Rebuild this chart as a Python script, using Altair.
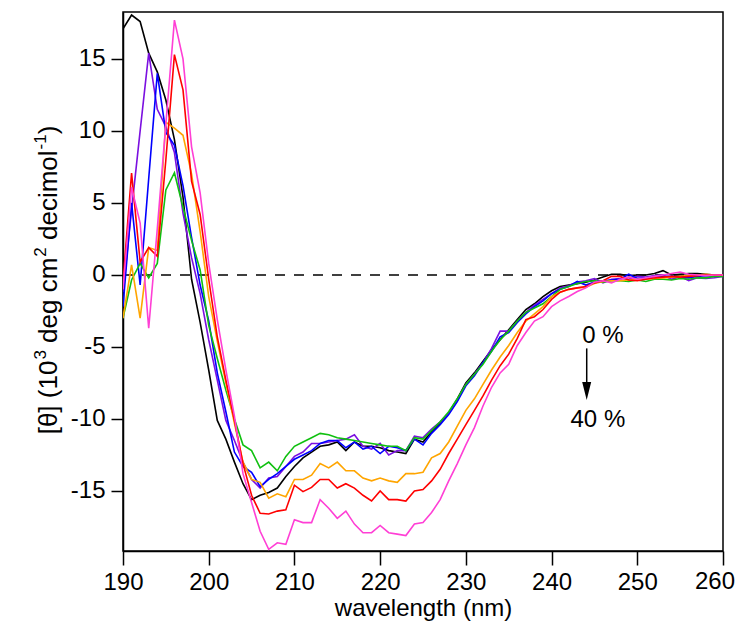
import altair as alt
import pandas as pd

wavelength = list(range(190, 261))

black = [17.1, 18.05, 17.6, 15.4, 14.1, 12.15, 9.4, 5.4, -0.3, -3.3,
         -6.6, -10.1, -11.4, -13.0, -14.5, -15.6, -15.3, -15.1, -14.8, -14.0,
         -13.3, -12.7, -12.3, -11.9, -11.8, -11.6, -12.2, -11.6, -11.9, -11.9,
         -12.0, -12.2, -12.3, -12.4, -11.4, -11.6, -10.9, -10.3, -9.6, -8.6,
         -7.5, -6.8, -6.0, -5.2, -4.5, -3.8, -3.1, -2.4, -2.0, -1.5,
         -1.1, -0.8, -0.7, -0.6, -0.5, -0.35, -0.15, 0.05, 0.05, -0.05,
         0.0, 0.0, 0.1, 0.3, 0.0, 0.05, 0.1, 0.1, 0.05, 0.0, 0.0]

purple = [-1.2, 4.5, 10.0, 15.4, 11.5, 10.3, 8.5, 4.3, 1.2, -1.3,
          -4.5, -7.3, -10.1, -11.5, -13.0, -14.2, -14.8, -14.1, -14.0, -13.3,
          -12.6, -12.3, -11.7, -11.7, -11.6, -11.5, -11.4, -11.1, -11.9, -12.1,
          -11.7, -12.5, -12.2, -12.2, -11.2, -11.3, -10.7, -10.2, -9.6, -8.7,
          -7.6, -6.9, -6.1, -5.1, -3.9, -3.9, -3.2, -2.6, -2.1, -1.7,
          -1.3, -0.9, -0.75, -0.5, -0.4, -0.25, -0.55, -0.3, -0.25, -0.3,
          -0.1, -0.15, -0.05, 0.0, -0.3, -0.1, -0.4, -0.2, -0.25, -0.2, -0.1]

blue = [-2.2, 5.0, -0.7, 6.7, 14.0, 9.9, 9.0, 6.2, 2.6, -0.7,
        -3.2, -6.8, -9.5, -12.3, -13.3, -13.7, -14.7, -14.2, -13.8, -13.3,
        -12.8, -12.5, -12.2, -11.7, -11.5, -11.5, -12.0, -11.6, -12.1, -11.9,
        -12.4, -11.9, -12.0, -12.2, -11.4, -11.8, -11.0, -10.4, -9.7, -8.8,
        -7.7, -7.0, -6.1, -5.3, -4.3, -4.0, -3.3, -2.7, -2.2, -1.8,
        -1.3, -1.0, -0.8, -0.45, -0.7, -0.5, -0.4, -0.35, -0.3, 0.05,
        -0.25, -0.2, -0.15, -0.1, -0.1, -0.15, -0.2, -0.1, -0.05, -0.1, 0.0]

green = [-3.0, -0.35, 0.8, -0.2, 0.8, 5.9, 7.1, 4.7, 2.4, 0.35,
         -3.5, -5.8, -8.0, -10.0, -11.8, -12.2, -13.4, -13.0, -13.6, -12.6,
         -11.9, -11.6, -11.3, -11.0, -11.1, -11.3, -11.4, -11.5, -11.6, -11.7,
         -11.8, -11.9, -11.9, -12.2, -11.3, -11.4, -10.8, -10.2, -9.5, -8.6,
         -7.6, -6.9, -6.2, -5.3, -4.5, -3.9, -3.2, -2.6, -2.3, -2.0,
         -1.5, -1.0, -0.8, -0.6, -0.45, -0.4, -0.5, -0.4, -0.4, -0.45,
         -0.35, -0.45, -0.3, -0.3, -0.35, -0.25, -0.3, -0.2, -0.2, -0.1, -0.1]

orange = [-3.0, 0.7, -3.0, 1.9, 1.7, 10.6, 10.2, 9.7, 7.0, 3.0,
          -1.5, -4.6, -7.5, -10.3, -13.0, -14.2, -14.4, -15.5, -15.2, -15.4,
          -14.2, -14.2, -13.9, -13.1, -13.4, -13.0, -13.6, -13.6, -14.1, -14.3,
          -14.1, -14.3, -14.4, -13.8, -13.8, -13.7, -12.7, -12.4, -11.6, -10.5,
          -9.4, -8.6, -7.6, -6.6, -5.7, -4.9, -4.0, -3.2, -2.7, -2.2,
          -1.5, -1.2, -1.0, -0.9, -0.85, -0.6, -0.45, -0.4, -0.4, -0.35,
          -0.3, -0.3, -0.25, -0.2, -0.15, -0.1, -0.05, 0.0, 0.05, 0.0, 0.0]

red = [-0.5, 7.07, 0.9, 1.9, 1.3, 8.0, 15.3, 12.85, 6.5, 4.2,
       -0.3, -4.3, -7.3, -10.1, -13.1, -15.3, -16.55, -16.6, -16.4, -16.3,
       -14.6, -15.05, -14.75, -14.2, -14.2, -14.8, -14.5, -14.8, -15.3, -15.7,
       -15.0, -15.6, -15.6, -15.7, -15.0, -14.9, -14.3, -13.5, -12.4, -11.4,
       -10.4, -9.4, -8.4, -7.3, -6.3, -5.5, -4.4, -3.1, -2.9, -2.4,
       -1.7, -1.2, -1.0, -0.9, -0.8, -0.55, -0.4, -0.1, -0.1, -0.35,
       -0.4, -0.3, -0.2, -0.15, -0.1, -0.15, -0.1, -0.05, 0.0, 0.0, 0.0]

magenta = [-1.0, 6.1, 3.6, -3.7, 3.2, 10.5, 17.7, 15.0, 8.9, 5.7,
           0.8, -3.1, -6.6, -9.8, -13.8, -15.8, -17.8, -19.05, -18.6, -18.7,
           -17.0, -17.2, -17.2, -15.6, -16.2, -16.9, -16.4, -17.3, -17.9, -17.9,
           -17.4, -17.9, -18.0, -18.1, -17.3, -17.2, -16.5, -15.6, -14.3, -13.1,
           -11.8, -10.6, -9.1, -7.8, -6.8, -6.2, -4.9, -4.0, -3.2, -2.9,
           -2.2, -1.8, -1.5, -1.15, -0.9, -0.5, -0.4, -0.55, -0.3, -0.15,
           -0.3, -0.2, -0.1, 0.0, 0.1, 0.2, 0.05, 0.0, -0.05, 0.0, 0.0]

series = [black, purple, blue, green, orange, red, magenta]
colors = ["#000000", "#7b10e0", "#0000ff", "#10c010", "#ffa500", "#ff0000", "#ff3fd5"]

x_ticks = [190, 200, 210, 220, 230, 240, 250, 260]
y_ticks = [-15, -10, -5, 0, 5, 10, 15]
x_domain = [190, 260]
y_domain = [-19.17, 18.26]
last_x_label = [260]

annot_text = ["0 %", "40 %"]
annot_x = [246.0, 245.4]
annot_y = [-4.24, -10.07]
arrow_x = [244.1]
arrow_y = [-5.1]
arrow_y2 = [-7.6]
arrowhead_y = [-8.06]

# y-axis title, written in pieces so that the exponents are raised
title_pieces = ["[θ] (10", "3", "deg cm", "2", "decimol", "-1", ")"]
title_is_sup = [False, True, False, True, False, True, False]
title_space_before = [False, False, True, False, True, False, False]

FONT = "Liberation Sans"
FS = 24
TITLE_FS = 26
SUP_FS = 17
PLOT_W = 600
PLOT_H = 539
X_TICK = 14
X_LABEL_PAD = 5

# Arial / Liberation Sans advance widths (per 1000 em)
ADV = {"[": 278, "θ": 556, "]": 278, " ": 278, "(": 333, ")": 333, "1": 556, "0": 556,
       "2": 556, "3": 556, "-": 333, "d": 556, "e": 556, "g": 556, "c": 500, "m": 833,
       "i": 222, "o": 556, "l": 222}

xscale = alt.Scale(domain=x_domain, nice=False, zero=False)
yscale = alt.Scale(domain=y_domain, nice=False, zero=False)

# the last x label is drawn separately so that it stays inside the page
xaxis = alt.Axis(values=x_ticks, title="wavelength (nm)",
                 labelExpr="datum.value == %d ? '' : '' + datum.value" % last_x_label[0],
                 tickSize=X_TICK, tickWidth=1.5, tickColor="black",
                 domainColor="black", domainWidth=1.5, labelFlush=False,
                 labelFont=FONT, labelFontSize=FS, labelColor="black", labelPadding=X_LABEL_PAD,
                 titleFont=FONT, titleFontSize=FS, titleFontWeight="normal",
                 titleColor="black", titlePadding=2, grid=False)
yaxis = alt.Axis(values=y_ticks, title=None, labelExpr="'' + datum.value",
                 tickSize=12, tickWidth=1.5, tickColor="black",
                 domainColor="black", domainWidth=1.5, labelFlush=False,
                 labelFont=FONT, labelFontSize=FS, labelColor="black", labelPadding=6,
                 grid=False)


def X(field):
    return alt.X(field, type="quantitative", scale=xscale, axis=xaxis)


def Y(field):
    return alt.Y(field, type="quantitative", scale=yscale, axis=yaxis)


layers = []
zero_df = pd.DataFrame({"x": [x_domain[0]], "x2": [x_domain[1]], "y": [0.0]})
layers.append(
    alt.Chart(zero_df).mark_rule(color="black", strokeWidth=1.6, strokeDash=[10, 9])
    .encode(x=X("x"), x2="x2:Q", y=Y("y"))
)

for vals, col in zip(series, colors):
    df = pd.DataFrame({"wavelength": wavelength, "theta": vals})
    layers.append(
        alt.Chart(df).mark_line(color=col, strokeWidth=1.6, clip=True)
        .encode(x=X("wavelength"), y=Y("theta"))
    )

adf = pd.DataFrame({"x": annot_x, "y": annot_y, "t": annot_text})
layers.append(
    alt.Chart(adf).mark_text(font=FONT, fontSize=FS, color="black", align="center", baseline="middle")
    .encode(x=X("x"), y=Y("y"), text="t:N")
)
arr = pd.DataFrame({"x": arrow_x, "y": arrow_y, "y2": arrow_y2})
layers.append(
    alt.Chart(arr).mark_rule(color="black", strokeWidth=1.5)
    .encode(x=X("x"), y=Y("y"), y2="y2:Q")
)
head = pd.DataFrame({"x": arrow_x, "y": arrowhead_y})
layers.append(
    alt.Chart(head).mark_point(shape="M-0.5,-1L0.5,-1L0,1Z", size=324, filled=True,
                               color="black", opacity=1)
    .encode(x=X("x"), y=Y("y"))
)

# last x tick label, right-aligned a little past its tick
ldf = pd.DataFrame({"x": last_x_label, "t": [str(v) for v in last_x_label]})
layers.append(
    alt.Chart(ldf).mark_text(font=FONT, fontSize=FS, color="black", align="right",
                             baseline="top", dx=12)
    .encode(x=X("x"), y=alt.value(PLOT_H + X_TICK + X_LABEL_PAD), text="t:N")
)

# rotated y title: baseline offset from the plot's left edge, centred on the plot
title_base_x = -66
sup_raise = 11
title_center_y = 268
space_w = ADV[" "] / 1000.0 * TITLE_FS
widths, gaps = [], []
for p, s, sp in zip(title_pieces, title_is_sup, title_space_before):
    fs = SUP_FS if s else TITLE_FS
    widths.append(sum(ADV[c] for c in p) / 1000.0 * fs)
    gaps.append((space_w if sp else 0.0) + (1.0 if s else 0.0))
total = sum(widths) + sum(gaps)
cursor = title_center_y + total / 2.0
for p, s, w, g in zip(title_pieces, title_is_sup, widths, gaps):
    cursor -= g
    tdf = pd.DataFrame({"t": [p]})
    layers.append(
        alt.Chart(tdf).mark_text(font=FONT, fontSize=SUP_FS if s else TITLE_FS, color="black",
                                 angle=270, align="left", baseline="alphabetic")
        .encode(x=alt.value(title_base_x - (sup_raise if s else 0)), y=alt.value(cursor),
                text="t:N")
    )
    cursor -= w

chart = alt.layer(*layers).properties(
    width=PLOT_W, height=PLOT_H,
    autosize=alt.AutoSizeParams(type="none"),
    padding={"left": 115, "top": 4, "right": 12, "bottom": 70},
).configure_view(stroke="black", strokeWidth=1.5)

chart.save("out.html", embed_options={"renderer": "svg", "actions": False})
